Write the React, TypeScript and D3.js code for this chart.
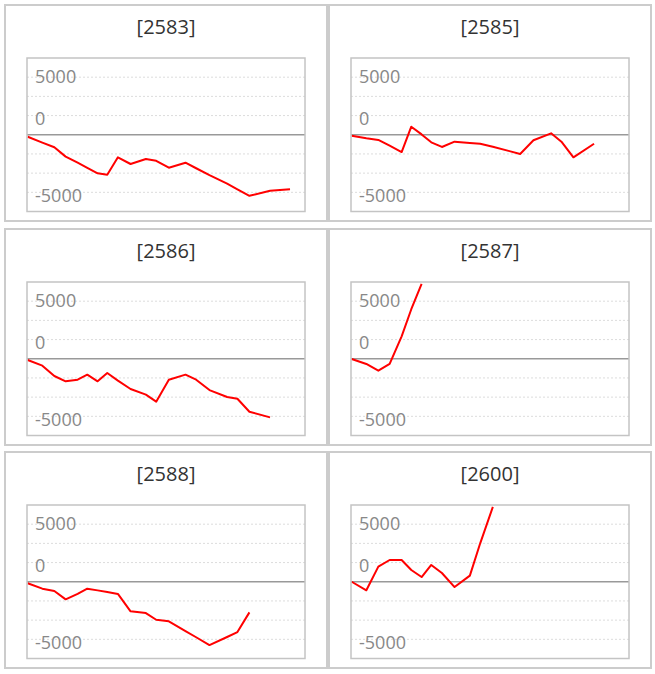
import React from "react";
import * as d3 from "d3";

// shared trading-day offsets (x positions of every sample)
const days = [0, 4.4, 8, 11.4, 15, 17.9, 21, 23.9, 27.1, 30.9, 35.5, 38.6, 42.4, 47.4, 50.6, 54.6, 59.9, 63, 66.6, 72.8, 78.8];

const codes = ["2583", "2585", "2586", "2587", "2588", "2600"];

const s2583 = [-170, -680, -1090, -1900, -2430, -2880, -3350, -3470, -1960, -2540, -2110, -2260, -2860, -2430, -2910, -3510, -4250, -4740, -5300, -4870, -4730];
const s2585 = [-80, -300, -450, -950, -1500, 700, 30, -660, -1060, -600, -710, -780, -1050, -1420, -1670, -480, 125, -600, -1960, -780];
const s2586 = [-110, -600, -1500, -1960, -1820, -1380, -1960, -1240, -1900, -2630, -3120, -3730, -1820, -1380, -1820, -2720, -3320, -3470, -4600, -5090];
const s2587 = [-20, -450, -1040, -450, 1950, 4300, 6500];
const s2588 = [-135, -600, -800, -1530, -1050, -600, -750, -890, -1060, -2570, -2720, -3300, -3440, -4280, -4820, -5500, -4800, -4370, -2660];
const s2600 = [0, -740, 1310, 1890, 1890, 1020, 410, 1460, 760, -460, 530, 3340, 6500];

const seriesList = [s2583, s2585, s2586, s2587, s2588, s2600];

const tickLabels = [5000, 0, -5000];

const W = 655;
const H = 674;
const colLefts = [4, 328];
const rowTops = [4, 228, 451];
const panelW = 324;
const panelH = 218;

const step = 5000 / 3;
const yMax = 4 * step;

const Panel = ({ left, top, code, values }) => {
  const px0 = left + 23;
  const px1 = left + 301;
  const py0 = top + 54;
  const py1 = top + 207.5;

  const x = d3.scaleLinear().domain([0, 83.3]).range([px0 + 0.7, px1]);
  const y = d3.scaleLinear().domain([-yMax, yMax]).range([py1, py0]);

  const pts = values.map((v, i) => [days[i], v]);
  const line = d3
    .line()
    .x((d) => x(d[0]))
    .y((d) => y(d[1]));

  const grid = d3.range(-3, 4).map((i) => i * step).filter((v) => v !== 0);
  const labelDy = { "5000": 5.4, "0": -9.3, "-5000": 9.6 };

  return (
    <g>
      <rect x={left + 1} y={top + 1} width={panelW - 2} height={panelH - 2} fill="#fff" stroke="#cccccc" strokeWidth={2} />
      <text x={left + panelW / 2} y={top + 30.3} textAnchor="middle" fontSize={20} fill="#333" fontFamily="'Open Sans', sans-serif">
        [{code}]
      </text>
      {grid.map((v) => (
        <line key={v} x1={px0} x2={px1} y1={y(v)} y2={y(v)} stroke="#dcdcdc" strokeWidth={1} strokeDasharray="2,2" />
      ))}
      <line x1={px0} x2={px1} y1={y(0)} y2={y(0)} stroke="#999" strokeWidth={1.5} />
      {tickLabels.map((v) => (
        <text key={v} x={px0 + 8} y={y(v) + labelDy[String(v)]} fontSize={18} fill="#888" fontFamily="'Open Sans', sans-serif">
          {v}
        </text>
      ))}
      <path d={line(pts)} fill="none" stroke="#ff0000" strokeWidth={2} strokeLinejoin="round" />
      <rect x={px0} y={py0} width={px1 - px0} height={py1 - py0} fill="none" stroke="#c4c4c4" strokeWidth={1.5} />
    </g>
  );
};

export default function App() {
  return (
    <svg width={W} height={H} style={{ position: "absolute", left: 0, top: 0, background: "#fff" }}>
      {codes.map((code, i) => (
        <Panel key={code} left={colLefts[i % 2]} top={rowTops[Math.floor(i / 2)]} code={code} values={seriesList[i]} />
      ))}
    </svg>
  );
}
